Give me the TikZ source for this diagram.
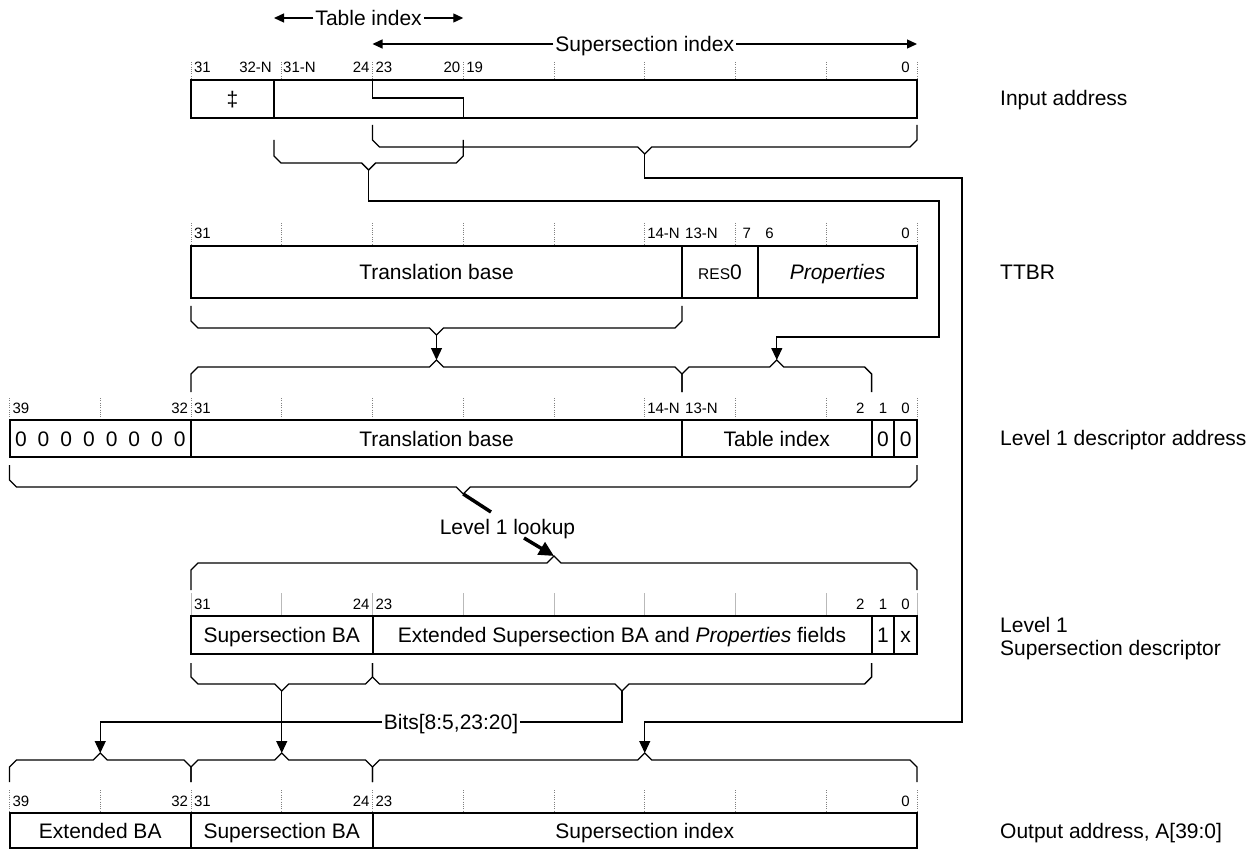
\documentclass[tikz,border=0pt]{standalone}
\usepackage{fontspec}
\setmainfont{Liberation Sans}
\usetikzlibrary{arrows.meta}
\tikzset{
  regbox/.style={line width=2pt},
  conn/.style={line width=1.3pt},
  brk/.style={line width=1.3pt, line join=miter},
  arr/.style={conn, -{Triangle[length=12pt,width=11pt]}},
  sarr/.style={conn, -{Triangle[length=10pt,width=9pt]}},
  tickd/.style={line width=0.9pt, gray, dash pattern=on 1pt off 1.3pt},
  ticks/.style={line width=0.8pt, gray!55},
  bitl/.style={font=\fontsize{15}{18}\selectfont, anchor=base, inner sep=0pt},
  lbl/.style={font=\fontsize{21}{25}\selectfont, inner sep=0pt, text height=15pt, text depth=0pt},
  onl/.style={lbl, fill=white, inner xsep=2pt},
  side/.style={lbl, anchor=west},
  lk/.style={line width=3.5pt},
  lkarr/.style={line width=3.5pt, -{Triangle[length=15pt,width=14pt]}}
}
% bracket pointing down: name, x1, x2, ytop, yh
\newcommand{\brdown}[5]{%
  \draw[brk] (#2,#4) -- (#2,#5-7) -- (#2+7,#5) -- ({(#2+#3)/2-7},#5) -- ({(#2+#3)/2},#5+7)
    -- ({(#2+#3)/2+7},#5) -- (#3-7,#5) -- (#3,#5-7) -- (#3,#4);
  \coordinate (#1) at ({(#2+#3)/2},#5+7);}
% bracket pointing up: name, x1, x2, ybot, yh
\newcommand{\brup}[5]{%
  \draw[brk] (#2,#4) -- (#2,#5+7) -- (#2+7,#5) -- ({(#2+#3)/2-7},#5) -- ({(#2+#3)/2},#5-7)
    -- ({(#2+#3)/2+7},#5) -- (#3-7,#5) -- (#3,#5+7) -- (#3,#4);
  \coordinate (#1) at ({(#2+#3)/2},#5-7);}
% bit label: name, bit, baseline y
\newcommand{\bitlab}[3]{\node[bitl] (#1) at ({917-(#2+0.5)*22.6875},#3) {#2};}
\begin{document}
\begin{tikzpicture}[x=1pt,y=-1pt]
\useasboundingbox[fill=white] (0,0) rectangle (1258,850);

% ---------------- Input address ----------------
\coordinate (tiL) at (274,18); \coordinate (tiR) at (463.25,18);
\node[onl] (tidx) at (368.6,18) {Table index};
\draw[sarr] (tidx.west) -- (tiL);
\draw[sarr] (tidx.east) -- (tiR);
\coordinate (siL) at (372.5,44); \coordinate (siR) at (917,44);
\node[onl] (sidx) at (644.75,44) {Supersection index};
\draw[sarr] (sidx.west) -- (siL);
\draw[sarr] (sidx.east) -- (siR);

\foreach \k in {0,...,8} \draw[tickd] ({917-90.75*\k},62) -- ({917-90.75*\k},80);
\bitlab{i31}{31}{73}
\node[bitl, anchor=base east] (i32n) at (272,73) {32-N};
\node[bitl, anchor=base west] (i31n) at (283,73) {31-N};
\bitlab{i24}{24}{73}
\bitlab{i23}{23}{73}
\bitlab{i20}{20}{73}
\bitlab{i19}{19}{73}
\bitlab{i0}{0}{73}

\draw[regbox] (191,80) rectangle (917,118);
\draw[regbox] (274,80) -- (274,118);
\draw[conn] (372.5,80) -- (372.5,98) -- (463.25,98) -- (463.25,118);
\node[lbl] (dag) at (232.5,99) {‡};
\node[side] (linp) at (1000,98) {Input address};

\brdown{inSS}{372.5}{917}{125}{147}
\brdown{inTI}{274}{463.25}{140}{163}

% ---------------- TTBR ----------------
\foreach \k in {0,...,8} \draw[tickd] ({917-90.75*\k},223) -- ({917-90.75*\k},246);
\bitlab{t31}{31}{239}
\node[bitl, anchor=base east] (t14n) at (680,239) {14-N};
\node[bitl, anchor=base west] (t13n) at (685,239) {13-N};
\bitlab{t7}{7}{239}
\bitlab{t6}{6}{239}
\bitlab{t0}{0}{239}

\draw[regbox] (191,246) rectangle (917,298);
\draw[regbox] (682,246) -- (682,298);
\draw[regbox] (758.2,246) -- (758.2,298);
\node[lbl] (ttb1) at (436.5,272) {Translation base};
\node[lbl] (ttb2) at (720,272) {\fontsize{15.5}{18}\selectfont RES\fontsize{21}{25}\selectfont 0};
\node[lbl] (ttb3) at (837.6,272) {\textit{Properties}};
\node[side] (lttbr) at (1000,272) {TTBR};

\brdown{ttb}{191}{682}{306}{328}

% ---------------- Level 1 descriptor address ----------------
\brup{l1A}{191}{682}{392}{367}
\brup{l1B}{682}{871.6}{392}{367}

\foreach \k in {0,...,10} \draw[tickd] ({917-90.75*\k},398) -- ({917-90.75*\k},420);
\bitlab{a39}{39}{413}
\bitlab{a32}{32}{413}
\bitlab{a31}{31}{413}
\node[bitl, anchor=base east] (a14n) at (680,413) {14-N};
\node[bitl, anchor=base west] (a13n) at (685,413) {13-N};
\bitlab{a2}{2}{413}
\bitlab{a1}{1}{413}
\bitlab{a0}{0}{413}

\draw[regbox] (9.5,420) rectangle (917,457);
\foreach \x in {191,682,871.6,894.3} \draw[regbox] (\x,420) -- (\x,457);
\foreach \b in {32,...,39} \node[lbl] (z\b) at ({917-(\b+0.5)*22.6875},438.5) {0};
\node[lbl] (a1tb) at (436.5,438.5) {Translation base};
\node[lbl] (a1ti) at (776.8,438.5) {Table index};
\node[lbl] (a1b1) at (883,438.5) {0};
\node[lbl] (a1b0) at (905.7,438.5) {0};
\node[side] (ll1a) at (1000,438) {Level 1 descriptor address};

\brdown{l1D}{9.5}{917}{465}{487}

% ---------------- Level 1 lookup ----------------
\coordinate (lk1) at (491,512);
\coordinate (lk2) at (524,538);
\node[lbl] (lkt) at (507.5,527) {Level 1 lookup};

% ---------------- Level 1 Supersection descriptor ----------------
\brup{ssU}{191}{917}{590}{563}
\foreach \k in {0,...,8} \draw[ticks] ({917-90.75*\k},593) -- ({917-90.75*\k},616);
\bitlab{s31}{31}{609}
\bitlab{s24}{24}{609}
\bitlab{s23}{23}{609}
\bitlab{s2}{2}{609}
\bitlab{s1}{1}{609}
\bitlab{s0}{0}{609}

\draw[regbox] (191,616) rectangle (917,654);
\foreach \x in {372.5,871.6,894.3} \draw[regbox] (\x,616) -- (\x,654);
\node[lbl] (sba) at (281.75,635) {Supersection BA};
\node[lbl] (sext) at (622,635) {Extended Supersection BA and \textit{Properties} fields};
\node[lbl] (sb1) at (883,635) {1};
\node[lbl] (sb0) at (905.7,635) {x};
\node[side] (lss1) at (1000,625) {Level 1};
\node[side] (lss2) at (1000,648) {Supersection descriptor};

\brdown{ssA}{191}{372.5}{663}{684}
\brdown{ssB}{372.5}{871.6}{663}{684}

% ---------------- Output address ----------------
\brup{oA}{9.5}{191}{782}{760}
\brup{oB}{191}{372.5}{782}{760}
\brup{oC}{372.5}{917}{782}{760}

\foreach \k in {0,...,10} \draw[tickd] ({917-90.75*\k},790) -- ({917-90.75*\k},813);
\bitlab{o39}{39}{806}
\bitlab{o32}{32}{806}
\bitlab{o31}{31}{806}
\bitlab{o24}{24}{806}
\bitlab{o23}{23}{806}
\bitlab{o0}{0}{806}

\draw[regbox] (9.5,813) rectangle (917,848);
\foreach \x in {191,372.5} \draw[regbox] (\x,813) -- (\x,848);
\node[lbl] (oext) at (100.25,830.5) {Extended BA};
\node[lbl] (osba) at (281.75,830.5) {Supersection BA};
\node[lbl] (osi) at (644.75,830.5) {Supersection index};
\node[side] (lout) at (1000,830.5) {Output address, A[39:0]};

% ---------------- connectors ----------------
\coordinate (c1) at (962,178);
\coordinate (c2) at (962,722);
\draw[arr] (inSS) |- (c1) -- (c2) -| (oC);
\coordinate (d1) at (939,201);
\coordinate (d2) at (939,337);
\draw[arr] (inTI) |- (d1) -- (d2) -| (l1B);
\draw[arr] (ttb) -- (l1A);
\draw[lk] (l1D) -- (lk1);
\draw[lkarr] (lk2) -- (ssU);
\draw[arr] (ssA) -- (oB);
\coordinate (e1) at (100.25,722);
\draw[arr] (ssB) |- (e1) -- (oA);
\node[onl] (bits) at (451,722) {Bits[8:5,23:20]};
\end{tikzpicture}
\end{document}
